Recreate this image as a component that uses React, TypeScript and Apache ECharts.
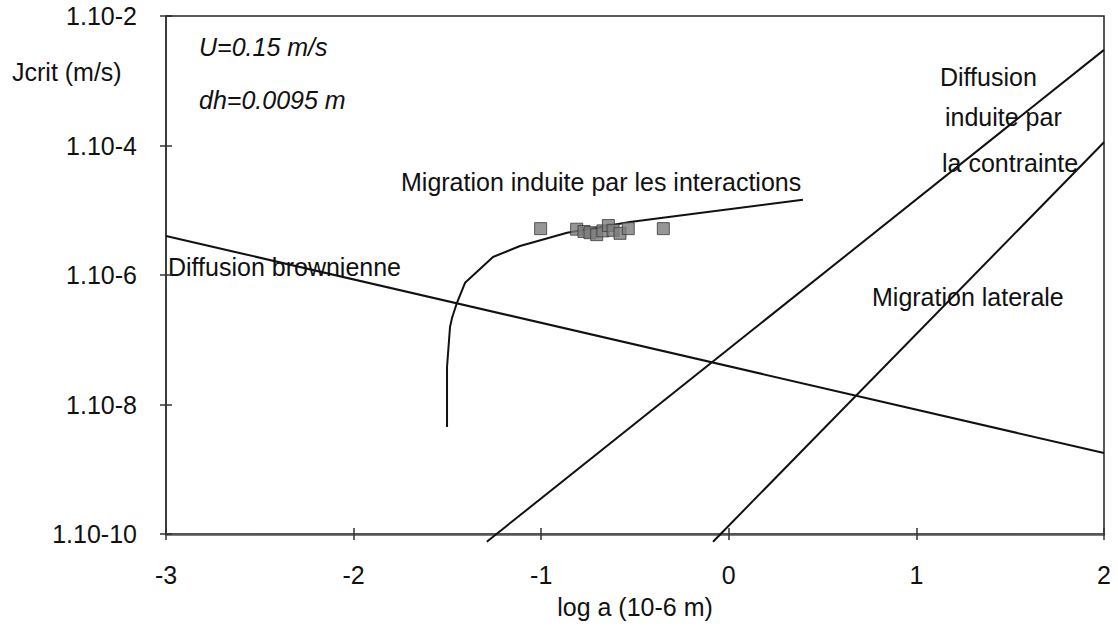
import React, { useEffect, useRef } from "react";
import * as echarts from "echarts";

// x: log a (10-6 m), y: Jcrit (m/s)
const xTicks = [-3, -2, -1, 0, 1, 2];
const yTickExponents = [-10, -8, -6, -4, -2];

const brownX = [-3, 2];
const brownJ = [4.0e-6, 1.78e-9];

const shearX = [-1.29, 2];
const shearJ = [7.6e-11, 3.0e-3];

const lateralX = [-0.084, 2];
const lateralJ = [7.6e-11, 1.12e-4];

const interX = [-1.502, -1.502, -1.486, -1.475, -1.449, -1.406, -1.257, -1.113, -0.862, -0.527, -0.207, 0.395];
const interJ = [4.5e-9, 3.8e-8, 1.58e-7, 2.19e-7, 3.72e-7, 7.59e-7, 1.9e-6, 2.8e-6, 4.5e-6, 6.6e-6, 8.7e-6, 1.45e-5];

const expX = [-1.003, -0.811, -0.772, -0.74, -0.704, -0.671, -0.642, -0.617, -0.58, -0.536, -0.349];
const expJ = [5.2e-6, 5.1e-6, 4.7e-6, 4.5e-6, 4.2e-6, 4.8e-6, 5.8e-6, 4.9e-6, 4.4e-6, 5.2e-6, 5.2e-6];

const pairs = (xs: number[], ys: number[]) => xs.map((x, i) => [x, ys[i]]);

const FONT = "'Liberation Sans', Arial, Helvetica, sans-serif";
const FS = 25;

export default function App() {
  const ref = useRef<HTMLDivElement>(null);
  useEffect(() => {
    document.body.style.margin = "0";
    const chart = echarts.init(ref.current!, null, { renderer: "svg" });
    const lineStyle = { color: "#111", width: 2 };
    const tickStyle = { color: "#333", width: 1.5 };
    const txt = (text: string, x: number, y: number, extra: any = {}) => ({
      type: "text",
      x,
      y,
      style: {
        text,
        fontSize: FS,
        fontFamily: FONT,
        fill: "#111",
        verticalAlign: "middle",
        ...extra,
      },
    });
    const yMin = Math.pow(10, yTickExponents[0]);
    const yMax = Math.pow(10, yTickExponents[yTickExponents.length - 1]);
    chart.setOption({
      animation: false,
      backgroundColor: "#fff",
      grid: {
        left: 166,
        right: 14,
        top: 16,
        bottom: 101,
        show: true,
        borderColor: "#222",
        borderWidth: 1.5,
        containLabel: false,
        outerBoundsMode: "none",
      },
      xAxis: [
        {
          type: "value",
          min: xTicks[0],
          max: xTicks[xTicks.length - 1],
          interval: 1,
          name: "log a (10-6 m)",
          nameLocation: "middle",
          nameGap: 60,
          nameTextStyle: { fontSize: FS, fontFamily: FONT, color: "#111" },
          axisLine: { onZero: false, lineStyle: { color: "#555", width: 2.5 } },
          axisTick: { show: true, length: 6, lineStyle: tickStyle },
          axisLabel: { margin: 28, fontSize: FS, fontFamily: FONT, color: "#111" },
          splitLine: { show: false },
        },
        {
          type: "value",
          min: xTicks[0],
          max: xTicks[xTicks.length - 1],
          interval: 1,
          position: "bottom",
          axisLine: { show: false, onZero: false },
          axisTick: { show: true, inside: true, length: 6, lineStyle: tickStyle },
          axisLabel: { show: false },
          splitLine: { show: false },
        },
      ],
      yAxis: [
        {
          type: "log",
          logBase: 10,
          min: yMin,
          max: yMax,
          interval: 2,
          position: "left",
          axisLine: { show: true, onZero: false, lineStyle: { color: "#333", width: 1.5 } },
          axisTick: { show: true, length: 6, lineStyle: tickStyle },
          axisLabel: {
            margin: 29,
            fontSize: FS,
            fontFamily: FONT,
            color: "#111",
            formatter: (v: number) => "1.10" + Math.round(Math.log10(v)),
          },
          splitLine: { show: false },
        },
        {
          type: "log",
          logBase: 10,
          min: yMin,
          max: yMax,
          interval: 2,
          position: "left",
          axisLine: { show: false, onZero: false },
          axisTick: { show: true, inside: true, length: 6, lineStyle: tickStyle },
          axisLabel: { show: false },
          splitLine: { show: false },
        },
      ],
      series: [
        {
          name: "Diffusion brownienne",
          type: "line",
          data: pairs(brownX, brownJ),
          showSymbol: false,
          lineStyle,
          clip: false,
        },
        {
          name: "Diffusion induite par la contrainte",
          type: "line",
          data: pairs(shearX, shearJ),
          showSymbol: false,
          lineStyle,
          clip: false,
        },
        {
          name: "Migration laterale",
          type: "line",
          data: pairs(lateralX, lateralJ),
          showSymbol: false,
          lineStyle,
          clip: false,
        },
        {
          name: "Migration induite par les interactions",
          type: "line",
          data: pairs(interX, interJ),
          showSymbol: false,
          lineStyle,
          clip: false,
        },
        {
          name: "Mesures",
          type: "scatter",
          data: pairs(expX, expJ),
          symbol: "rect",
          symbolSize: 12,
          itemStyle: { color: "#7c7c7c", borderColor: "#3a3a3a", borderWidth: 1 },
          z: 5,
        },
      ],
      graphic: [
        txt("Jcrit (m/s)", 12, 72),
        txt("U=0.15 m/s", 199, 47, { fontStyle: "italic" }),
        txt("dh=0.0095 m", 199, 100, { fontStyle: "italic" }),
        txt("Migration induite par les interactions", 401, 182),
        txt("Diffusion brownienne", 168, 267),
        txt("Diffusion", 940, 77),
        txt("induite par", 945, 117),
        txt("la contrainte", 942, 163),
        txt("Migration laterale", 872, 297),
      ],
    });
    return () => chart.dispose();
  }, []);
  return <div ref={ref} style={{ width: 1118, height: 635 }} />;
}
